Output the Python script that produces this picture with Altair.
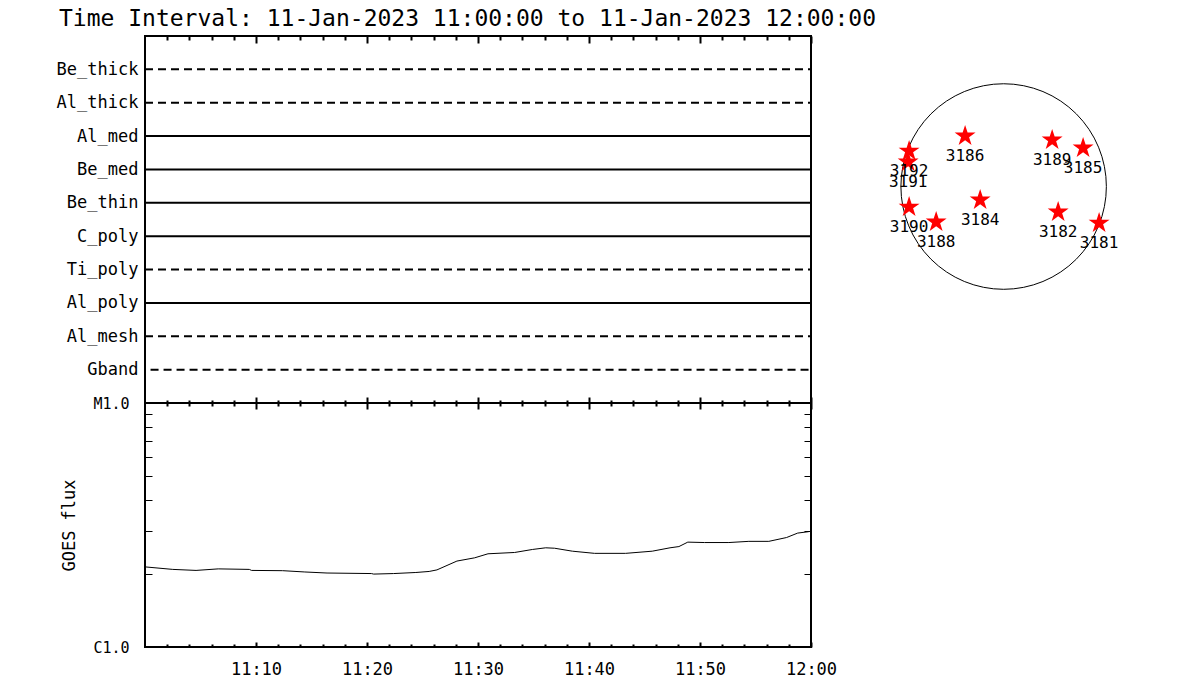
import altair as alt
import pandas as pd

FONT = "DejaVu Sans Mono"
TITLE = "Time Interval: 11-Jan-2023 11:00:00 to 11-Jan-2023 12:00:00"
DATE = "2023-01-11"
T_START = "11:00:00"
T_END = "12:00:00"

# XRT filter timeline
filters = ["Be_thick", "Al_thick", "Al_med", "Be_med", "Be_thin",
           "C_poly", "Ti_poly", "Al_poly", "Al_mesh", "Gband"]
line_styles = ["dashed", "dashed", "solid", "solid", "solid",
               "solid", "dashed", "solid", "dashed", "dashed"]
obs_start = ["11:00:00"] * 9 + ["11:00:30"]
obs_end = ["12:00:00"] * 10

# GOES flux (W/m^2)
goes_time = ["11:00:00", "11:02:30", "11:04:36", "11:06:36", "11:09:24", "11:09:36",
             "11:12:24", "11:14:24", "11:16:24", "11:20:24", "11:20:36", "11:22:24",
             "11:24:24", "11:25:36", "11:26:18", "11:28:06", "11:29:42", "11:30:54",
             "11:33:18", "11:34:54", "11:36:06", "11:36:54", "11:38:30", "11:40:30",
             "11:43:18", "11:45:42", "11:47:18", "11:48:06", "11:48:54", "11:50:24",
             "11:52:36", "11:54:24", "11:56:12", "11:57:48", "11:58:48", "11:59:48"]
goes_flux = [2.13e-6, 2.08e-6, 2.06e-6, 2.09e-6, 2.08e-6, 2.06e-6,
             2.055e-6, 2.03e-6, 2.01e-6, 2.00e-6, 1.99e-6, 2.00e-6,
             2.02e-6, 2.04e-6, 2.07e-6, 2.25e-6, 2.32e-6, 2.41e-6,
             2.44e-6, 2.51e-6, 2.55e-6, 2.54e-6, 2.47e-6, 2.42e-6,
             2.42e-6, 2.47e-6, 2.55e-6, 2.58e-6, 2.69e-6, 2.68e-6,
             2.68e-6, 2.71e-6, 2.71e-6, 2.81e-6, 2.93e-6, 2.97e-6]

# axis ticks
major_ticks = ["11:10:00", "11:20:00", "11:30:00", "11:40:00", "11:50:00", "12:00:00"]
minor_ticks = ["11:02:00", "11:04:00", "11:06:00", "11:08:00",
               "11:12:00", "11:14:00", "11:16:00", "11:18:00",
               "11:22:00", "11:24:00", "11:26:00", "11:28:00",
               "11:32:00", "11:34:00", "11:36:00", "11:38:00",
               "11:42:00", "11:44:00", "11:46:00", "11:48:00",
               "11:52:00", "11:54:00", "11:56:00", "11:58:00"]
flux_class_values = [1e-6, 1e-5]
flux_class_labels = ["C1.0", "M1.0"]
flux_minor_ticks = [2e-6, 3e-6, 4e-6, 5e-6, 6e-6, 7e-6, 8e-6, 9e-6]

# active regions on the solar disk (arcsec)
ar_numbers = ["3186", "3189", "3185", "3192", "3191", "3190", "3188", "3184", "3182", "3181"]
ar_x = [-366, 461, 755, -898, -907, -898, -641, -223, 518, 907]
ar_y = [480, 442, 366, 337, 233, -195, -337, -128, -242, -347]
sun_radius = 976
disk_x_domain = [-1450, 1400]
disk_y_domain = [-1420, 1430]
DISK_W = 300
DISK_H = 300

STAR = ("M0,-1L0.2245,-0.309L0.951,-0.309L0.363,0.118L0.588,0.809L0,0.382"
        "L-0.588,0.809L-0.363,0.118L-0.951,-0.309L-0.2245,-0.309Z")


def ts(hms):
    return pd.Timestamp(f"{DATE} {hms}")


def dt(hms):
    h, m, s = (int(v) for v in hms.split(":"))
    return alt.DateTime(year=2023, month=1, date=11, hours=h, minutes=m, seconds=s)


def neg(v):
    return alt.ExprRef(expr=str(v))


x_scale = alt.Scale(domain=[dt(T_START), dt(T_END)], nice=False)
W, H_TOP, H_BOT = 666, 367, 244

# ---------------- top panel ----------------
obs = pd.DataFrame({
    "filter": filters,
    "style": line_styles,
    "start": [ts(t) for t in obs_start],
    "end": [ts(t) for t in obs_end],
})
y_filter = alt.Scale(type="point", domain=filters, padding=1)

top_lines = alt.Chart(obs).mark_rule(color="black", strokeWidth=2).encode(
    x=alt.X("start:T", scale=x_scale,
            axis=alt.Axis(orient="top", values=[dt(t) for t in major_ticks],
                          tickSize=neg(-7), tickWidth=2, tickColor="black",
                          labels=False, domain=False, grid=False, title=None)),
    x2="end:T",
    y=alt.Y("filter:N", scale=y_filter,
            axis=alt.Axis(orient="left", ticks=False, domain=False, grid=False,
                          labelFontSize=17, labelPadding=7, labelColor="black",
                          title=None)),
    strokeDash=alt.StrokeDash("style:N",
                              scale=alt.Scale(domain=["solid", "dashed"],
                                              range=[[1, 0], [8, 5]]),
                              legend=None),
)
top_minor = alt.Chart(obs).mark_rule(opacity=0).encode(
    x=alt.X("start:T", scale=x_scale,
            axis=alt.Axis(orient="top", values=[dt(t) for t in minor_ticks],
                          tickSize=neg(-4), tickWidth=2, tickColor="black",
                          labels=False, domain=False, grid=False, title=None)),
    x2="end:T",
    y=alt.Y("filter:N", scale=y_filter, axis=None),
)
top = alt.layer(top_lines, top_minor).resolve_axis(
    x="independent", y="independent").properties(width=W, height=H_TOP)

# ---------------- GOES panel ----------------
goes = pd.DataFrame({"time": [ts(t) for t in goes_time], "flux": goes_flux})
y_flux = alt.Scale(type="log", domain=[flux_class_values[0], flux_class_values[-1]], nice=False)
label_expr = (f"datum.value < {flux_class_values[0] * 3} ? '{flux_class_labels[0]}' "
              f": '{flux_class_labels[1]}'")


def goes_layer(opacity, xaxis, yaxis):
    return alt.Chart(goes).mark_line(color="black", strokeWidth=1, opacity=opacity).encode(
        x=alt.X("time:T", scale=x_scale, axis=xaxis),
        y=alt.Y("flux:Q", scale=y_flux, axis=yaxis),
    )


b1 = goes_layer(
    1,
    alt.Axis(orient="bottom", values=[dt(t) for t in major_ticks], format="%H:%M",
             tickSize=neg(-5), tickWidth=2, tickColor="black", labelFontSize=17,
             labelPadding=19, labelColor="black", labelFlush=False, labelOverlap=False,
             domain=False, grid=False, title=None),
    alt.Axis(orient="left", values=flux_class_values, labelExpr=label_expr,
             ticks=False, domain=False, grid=False, labelFontSize=15, labelPadding=16,
             labelColor="black", title="GOES flux", titleFontSize=17,
             titleFontWeight="normal", titleColor="black", titlePadding=14),
)
b2 = goes_layer(
    0,
    alt.Axis(orient="bottom", values=[dt(t) for t in minor_ticks], tickSize=neg(-3),
             tickWidth=2, tickColor="black", labels=False, domain=False, grid=False,
             title=None),
    alt.Axis(orient="left", values=flux_minor_ticks, tickSize=neg(-7), tickWidth=1,
             tickColor="black", labels=False, domain=False, grid=False, title=None),
)
b3 = goes_layer(
    0,
    alt.Axis(orient="top", values=[dt(t) for t in major_ticks], offset=-6, tickSize=12,
             tickWidth=2, tickColor="black", labels=False, domain=False, grid=False,
             title=None),
    alt.Axis(orient="right", values=flux_minor_ticks, tickSize=neg(-7), tickWidth=1,
             tickColor="black", labels=False, domain=False, grid=False, title=None),
)
b4 = goes_layer(
    0,
    alt.Axis(orient="top", values=[dt(t) for t in minor_ticks], offset=-3, tickSize=6,
             tickWidth=2, tickColor="black", labels=False, domain=False, grid=False,
             title=None),
    None,
)
bottom = alt.layer(b1, b2, b3, b4).resolve_axis(
    x="independent", y="independent").properties(width=W, height=H_BOT)

# ---------------- solar disk ----------------
ars = pd.DataFrame({"ar": ar_numbers, "x": ar_x, "y": ar_y})
sun = pd.DataFrame({"x": [0], "y": [0]})
dx = alt.Scale(domain=disk_x_domain, nice=False, zero=False)
dy = alt.Scale(domain=disk_y_domain, nice=False, zero=False)
px_per_arcsec = DISK_W / (disk_x_domain[1] - disk_x_domain[0])
limb_size = (2 * sun_radius * px_per_arcsec) ** 2

limb = alt.Chart(sun).mark_point(shape="circle", filled=False, color="black",
                                 strokeWidth=1, opacity=1, size=limb_size).encode(
    x=alt.X("x:Q", scale=dx, axis=None), y=alt.Y("y:Q", scale=dy, axis=None))
stars = alt.Chart(ars).mark_point(shape=STAR, filled=True, color="#ff0000",
                                  opacity=1, size=484).encode(
    x=alt.X("x:Q", scale=dx, axis=None), y=alt.Y("y:Q", scale=dy, axis=None))
ar_text = alt.Chart(ars).mark_text(dy=20, fontSize=16, color="black", font=FONT).encode(
    x=alt.X("x:Q", scale=dx, axis=None), y=alt.Y("y:Q", scale=dy, axis=None),
    text="ar:N")
disk = alt.layer(limb, stars, ar_text).properties(
    width=DISK_W, height=DISK_H, view=alt.ViewBackground(strokeOpacity=0))

left = alt.vconcat(top, bottom, spacing=0, bounds="flush")
chart = alt.hconcat(left, disk, spacing=13).properties(
    title=alt.TitleParams(TITLE, anchor="start", frame="group", fontSize=23, font=FONT,
                          fontWeight="normal", color="black", dx=-86,
                          offset=alt.ExprRef(expr="-15"), baseline="alphabetic"),
    padding={"left": 47, "top": 0, "right": 5, "bottom": 5},
).configure(font=FONT).configure_view(stroke="black", strokeWidth=2)

chart.save("out.html", embed_options={"renderer": "svg", "actions": False})
